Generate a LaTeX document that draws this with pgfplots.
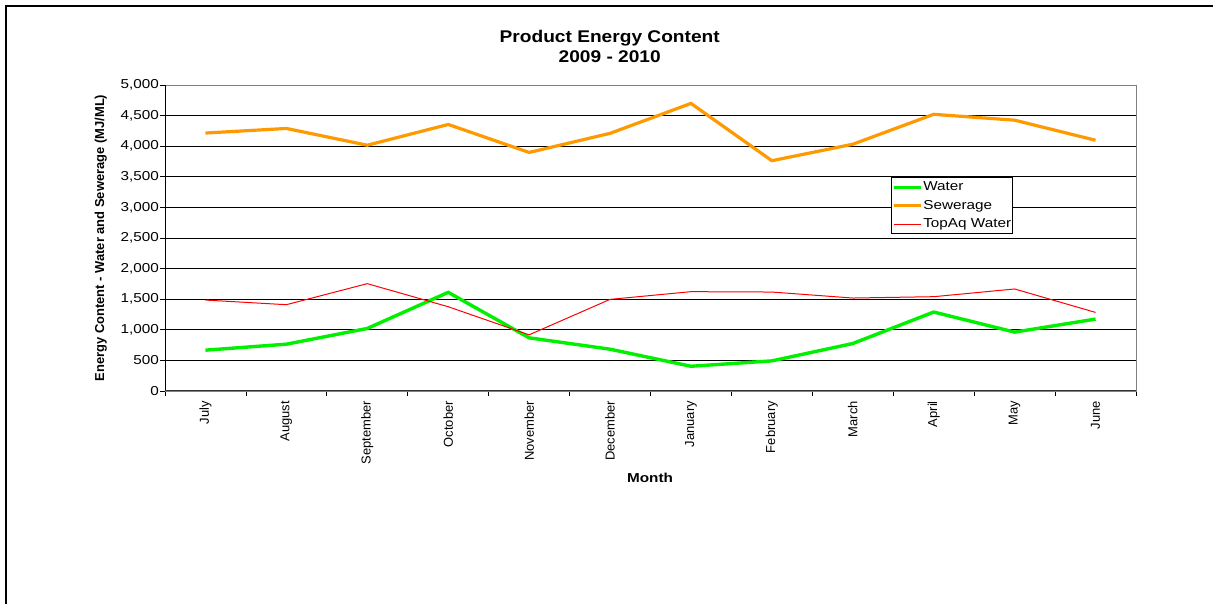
\documentclass[border=0pt]{standalone}
\usepackage{fontspec}
\setmainfont{Liberation Sans}
\newfontfamily\wide[FakeStretch=1.18]{Liberation Sans}
\newfontfamily\widet[FakeStretch=1.13]{Liberation Sans}
\usepackage{pgfplots}
\pgfplotsset{compat=1.18}
\definecolor{cgreen}{RGB}{0,240,0}
\definecolor{corange}{RGB}{255,153,0}
\definecolor{cred}{RGB}{255,0,0}
\definecolor{cborder}{RGB}{128,128,128}
\begin{document}
\begin{tikzpicture}
\useasboundingbox (0,0) rectangle (1213bp,604bp);
\fill[white] (0,0) rectangle (1213bp,604bp);
\draw[line width=2bp] (6.3bp,0) -- (6.3bp,598.3bp) -- (1213bp,598.3bp);
\begin{axis}[
  at={(165bp,213bp)}, anchor=south west,
  scale only axis, width=971bp, height=306bp,
  xmin=-0.5, xmax=11.5, ymin=0, ymax=5000,
  xtick={-0.5,0.5,...,11.5},
  x tick label as interval,
  xticklabels={July,August,September,October,November,December,January,February,March,April,May,June},
  xticklabel style={rotate=90, anchor=east, font=\fontsize{13}{15}\selectfont, inner sep=5bp},
  ytick={0,500,...,5000},
  yticklabel style={font=\wide\fontsize{13}{15}\selectfont, inner sep=1bp},
  /pgf/number format/.cd, 1000 sep={,}, assume math mode=true, /pgfplots/.cd,
  scaled y ticks=false,
  tick align=outside, major tick length=5bp,
  tick style={black, line width=0.8bp},
  xtick pos=bottom, ytick pos=left,
  ymajorgrids, grid style={black, line width=0.8bp},
  axis line style={cborder, line width=0.9bp},
  title={Product Energy Content\\2009 - 2010},
  title style={at={(axis description cs:0.458,1.106)}, anchor=center, align=center, font=\widet\bfseries\fontsize{17}{20}\selectfont},
  xlabel={Month},
  xlabel style={at={(axis description cs:0.4995,-0.284)}, anchor=center, font=\wide\bfseries\fontsize{13}{15}\selectfont},
  ylabel={Energy Content - Water and Sewerage (MJ/ML)},
  ylabel style={at={(axis description cs:-0.066,0.5)}, anchor=center, rotate=0, font=\bfseries\fontsize{13}{15}\selectfont},
  legend style={at={(axis description cs:0.7477,0.699)}, anchor=north west, draw=black, line width=0.8bp, font=\wide\fontsize{13}{15}\selectfont, inner sep=0.5bp, nodes={inner xsep=1bp, inner ysep=4bp}, row sep=0bp},
  legend cell align=left,
  legend image code/.code={\draw[#1] (0bp,0bp) -- (27bp,0bp);},
]
\addplot[cgreen, line width=3.4bp] coordinates {(0,667) (1,765) (2,1022) (3,1612) (4,869) (5,683) (6,404) (7,492) (8,776) (9,1290) (10,962) (11,1175)};
\addlegendentry{Water}
\addplot[corange, line width=3.2bp] coordinates {(0,4215) (1,4290) (2,4016) (3,4355) (4,3898) (5,4210) (6,4699) (7,3763) (8,4032) (9,4521) (10,4425) (11,4097)};
\addlegendentry{Sewerage}
\addplot[cred, line width=1bp] coordinates {(0,1486) (1,1410) (2,1754) (3,1377) (4,918) (5,1497) (6,1623) (7,1617) (8,1519) (9,1541) (10,1667) (11,1284)};
\addlegendentry{TopAq Water}
\draw[black, line width=1bp] (axis cs:-0.5,0) -- (axis cs:-0.5,5000);
\draw[black!80, line width=1bp] (axis cs:-0.5,0) -- (axis cs:11.5,0);
\end{axis}
\end{tikzpicture}
\end{document}
